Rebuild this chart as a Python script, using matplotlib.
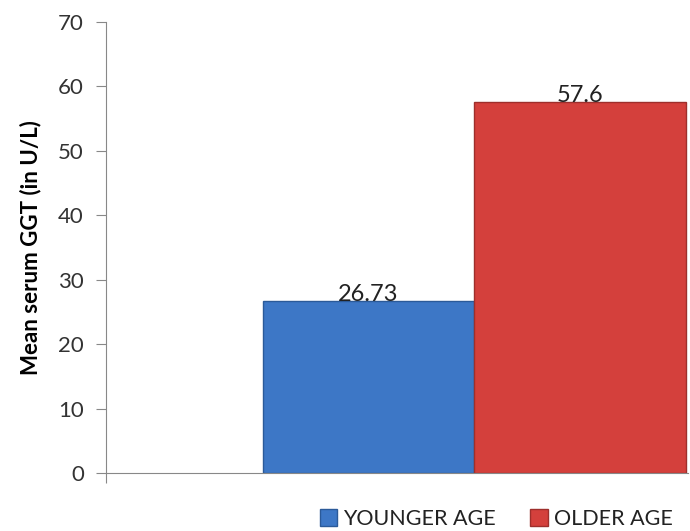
import matplotlib.pyplot as plt
from matplotlib.patches import Patch

series = ['YOUNGER AGE', 'OLDER AGE']
values = [26.73, 57.6]
value_labels = ['26.73', '57.6']
colors = ['#3d77c6', '#d4403c']
edges = ['#2b5a99', '#9e2f2c']
yticks = [0, 10, 20, 30, 40, 50, 60, 70]

plt.rcParams['font.family'] = ['Lato', 'DejaVu Sans']

fig = plt.figure(figsize=(6.9, 5.31), dpi=100)
ax = fig.add_axes([106 / 690, 1 - 473 / 531, 582 / 690, 451 / 531])

positions = range(len(values))
bars = ax.bar(positions, values, width=1.0, color=colors, edgecolor=edges, linewidth=1.0)

for b, lab in zip(bars, value_labels):
    ax.text(b.get_x() + b.get_width() / 2, b.get_height() - 0.7, lab,
            ha='center', va='bottom', fontsize=17, color='#222222')

ax.set_xlim(-1.24, 1.51)
ax.set_ylim(0, 70)
ax.set_yticks(yticks)
ax.set_xticks([-1.24])
ax.set_xticklabels([''])
ax.tick_params(axis='y', length=7, color='#888888', labelsize=16, labelcolor='#333333', pad=9)
ax.tick_params(axis='x', length=7, color='#888888')

for s in ['top', 'right']:
    ax.spines[s].set_visible(False)
for s in ['left', 'bottom']:
    ax.spines[s].set_color('#888888')

ax.set_ylabel('Mean serum GGT (in U/L)', fontsize=16, fontweight='bold', labelpad=12)

handles = [Patch(facecolor=c, edgecolor=e) for c, e in zip(colors, edges)]
fig.legend(handles, series, loc='center right', bbox_to_anchor=(673 / 690, 1 - 519 / 531), ncol=2,
           frameon=False, fontsize=15.5, handlelength=0.8, handleheight=0.8,
           handletextpad=0.3, columnspacing=1.6, borderpad=0, borderaxespad=0,
           labelcolor='#222222')

fig.savefig('out.png', dpi=100)
